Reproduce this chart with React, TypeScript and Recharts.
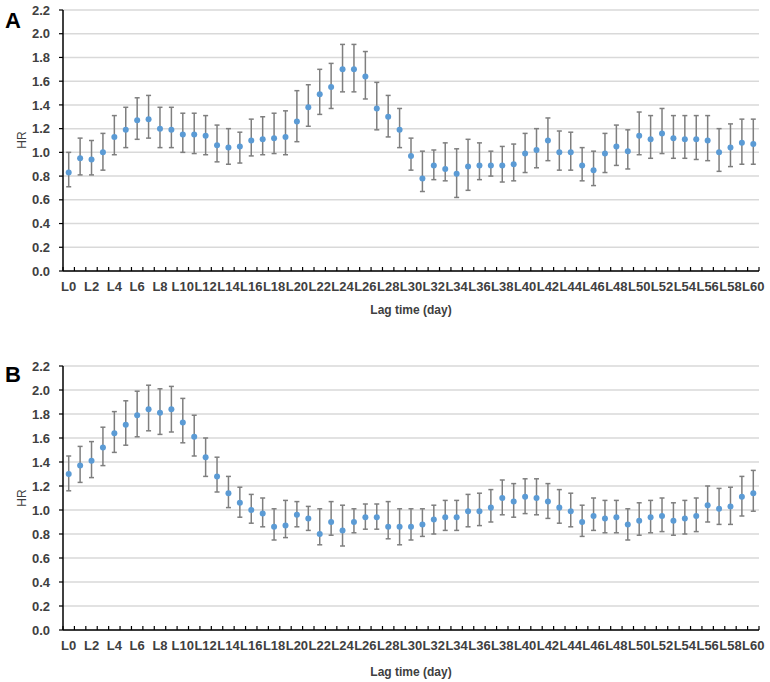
import React from 'react';
import { ComposedChart, Line, ErrorBar, XAxis, YAxis, CartesianGrid } from 'recharts';

const lags = [
  'L0','L1','L2','L3','L4','L5','L6','L7','L8','L9',
  'L10','L11','L12','L13','L14','L15','L16','L17','L18','L19',
  'L20','L21','L22','L23','L24','L25','L26','L27','L28','L29',
  'L30','L31','L32','L33','L34','L35','L36','L37','L38','L39',
  'L40','L41','L42','L43','L44','L45','L46','L47','L48','L49',
  'L50','L51','L52','L53','L54','L55','L56','L57','L58','L59','L60',
];

const hrA = [
  0.83,0.95,0.94,1.00,1.13,1.19,1.27,1.28,1.20,1.19,
  1.15,1.15,1.14,1.06,1.04,1.05,1.10,1.11,1.12,1.13,
  1.26,1.38,1.49,1.55,1.70,1.70,1.64,1.37,1.30,1.19,
  0.97,0.78,0.89,0.86,0.82,0.88,0.89,0.89,0.89,0.90,
  0.99,1.02,1.10,1.00,1.00,0.89,0.85,0.99,1.05,1.01,
  1.14,1.11,1.16,1.12,1.11,1.11,1.10,1.00,1.04,1.08,1.07,
];
const lowA = [
  0.71,0.81,0.81,0.85,0.98,1.04,1.11,1.12,1.04,1.04,
  1.00,0.99,0.98,0.92,0.90,0.91,0.97,0.98,0.99,0.98,
  1.09,1.22,1.32,1.37,1.51,1.51,1.45,1.19,1.13,1.04,
  0.85,0.67,0.77,0.76,0.62,0.68,0.77,0.80,0.75,0.76,
  0.83,0.87,0.93,0.85,0.85,0.76,0.72,0.83,0.89,0.86,
  0.98,0.95,0.99,0.95,0.95,0.94,0.93,0.84,0.88,0.90,0.90,
];
const highA = [
  1.00,1.12,1.10,1.16,1.31,1.38,1.46,1.48,1.38,1.38,
  1.33,1.33,1.31,1.23,1.20,1.17,1.28,1.30,1.33,1.35,
  1.52,1.57,1.70,1.75,1.91,1.91,1.85,1.59,1.48,1.37,
  1.12,1.01,1.02,1.08,1.03,1.11,1.08,1.01,1.05,1.07,
  1.16,1.20,1.29,1.18,1.17,1.04,1.01,1.16,1.23,1.19,
  1.34,1.31,1.37,1.31,1.31,1.31,1.31,1.20,1.24,1.28,1.28,
];

const hrB = [
  1.30,1.37,1.41,1.52,1.64,1.71,1.79,1.84,1.81,1.84,
  1.73,1.61,1.44,1.28,1.14,1.06,1.00,0.97,0.86,0.87,
  0.96,0.93,0.80,0.90,0.83,0.90,0.94,0.94,0.86,0.86,
  0.86,0.88,0.92,0.94,0.94,0.99,0.99,1.02,1.10,1.07,
  1.11,1.10,1.07,1.02,0.99,0.90,0.95,0.93,0.94,0.88,
  0.91,0.94,0.95,0.91,0.93,0.95,1.04,1.01,1.03,1.11,1.14,
];
const lowB = [
  1.16,1.23,1.27,1.37,1.48,1.54,1.61,1.66,1.63,1.65,
  1.56,1.45,1.28,1.15,1.02,0.94,0.89,0.86,0.75,0.77,
  0.86,0.83,0.71,0.79,0.70,0.81,0.84,0.84,0.76,0.71,
  0.75,0.78,0.80,0.83,0.83,0.86,0.87,0.90,0.96,0.94,
  0.97,0.96,0.93,0.89,0.86,0.78,0.83,0.81,0.81,0.75,
  0.79,0.81,0.82,0.79,0.80,0.82,0.90,0.88,0.88,0.95,0.99,
];
const highB = [
  1.45,1.53,1.57,1.69,1.82,1.91,1.99,2.04,2.01,2.03,
  1.93,1.79,1.60,1.44,1.28,1.19,1.13,1.10,1.01,1.08,
  1.07,1.03,1.01,1.07,1.04,1.01,1.05,1.05,1.07,1.01,
  1.01,1.01,1.04,1.08,1.08,1.13,1.14,1.17,1.25,1.22,
  1.26,1.26,1.22,1.17,1.14,1.04,1.10,1.08,1.08,1.01,
  1.06,1.08,1.10,1.06,1.08,1.10,1.20,1.18,1.19,1.28,1.33,
];

const yTicks = [0, 0.2, 0.4, 0.6, 0.8, 1.0, 1.2, 1.4, 1.6, 1.8, 2.0, 2.2];

const buildRows = (hr: number[], low: number[], high: number[]) =>
  lags.map((lag, i) => ({ lag, hr: hr[i], err: [hr[i] - low[i], high[i] - hr[i]] }));

const rowsA = buildRows(hrA, lowA, highA);
const rowsB = buildRows(hrB, lowB, highB);

const FONT = '"Liberation Sans", Arial, sans-serif';
const LABEL_COLOR = '#404040';
const CHART_W = 770;
const Y_AXIS_W = 63;
const RIGHT_M = 11;
const BAND = (CHART_W - Y_AXIS_W - RIGHT_M) / lags.length;

function LagTick(props: any) {
  const { x, y, payload } = props;
  const i = payload.index;
  return (
    <g>
      <line x1={x - BAND / 2} x2={x - BAND / 2} y1={y} y2={y - 4} stroke="#000" strokeWidth={1.2} />
      {i === lags.length - 1 && (
        <line x1={x + BAND / 2} x2={x + BAND / 2} y1={y} y2={y - 4} stroke="#000" strokeWidth={1.2} />
      )}
      {i % 2 === 0 && (
        <text x={x} y={y + 20} textAnchor="middle" fontFamily={FONT} fontWeight="bold" fontSize={13} fill={LABEL_COLOR}>
          {payload.value}
        </text>
      )}
    </g>
  );
}

function Panel({ rows, height, top }: { rows: any[]; height: number; top: number }) {
  return (
    <ComposedChart
      width={CHART_W}
      height={height}
      data={rows}
      margin={{ top, right: RIGHT_M, bottom: 0, left: 0 }}
    >
      <CartesianGrid vertical={false} stroke="#d9d9d9" strokeWidth={1.5} />
      <XAxis
        dataKey="lag"
        type="category"
        interval={0}
        height={50}
        padding={{ left: BAND / 2, right: BAND / 2 }}
        tickSize={0}
        tickMargin={0}
        tickLine={false}
        axisLine={{ stroke: '#000', strokeWidth: 1.5 }}
        tick={<LagTick />}
      />
      <YAxis
        width={Y_AXIS_W}
        domain={[0, 2.2]}
        ticks={yTicks}
        interval={0}
        tickFormatter={(v: number) => v.toFixed(1)}
        tickSize={4}
        tickMargin={9}
        axisLine={{ stroke: '#000', strokeWidth: 1.5 }}
        tickLine={{ stroke: '#000', strokeWidth: 1.2 }}
        tick={{ fontFamily: FONT, fontWeight: 'bold', fontSize: 13, fill: LABEL_COLOR }}
      />
      <Line
        dataKey="hr"
        stroke="none"
        isAnimationActive={false}
        dot={{ r: 3, fill: '#5B9BD5', stroke: 'none' }}
        activeDot={false}
      >
        <ErrorBar dataKey="err" direction="y" width={2.5} stroke="#7f7f7f" strokeWidth={1.5} isAnimationActive={false} />
      </Line>
    </ComposedChart>
  );
}

export default function App() {
  return (
    <div style={{ position: 'absolute', left: 0, top: 0, width: 770, height: 682, background: '#fff' }}>
      <div style={{ position: 'absolute', left: 0, top: 0 }}>
        <Panel rows={rowsA} height={321} top={10} />
      </div>
      <div style={{ position: 'absolute', left: 0, top: 340 }}>
        <Panel rows={rowsB} height={340} top={26} />
      </div>
      <svg width={770} height={682} style={{ position: 'absolute', left: 0, top: 0, pointerEvents: 'none' }}>
        <text x={5} y={28} fontFamily={FONT} fontWeight="bold" fontSize={22} fill="#000">A</text>
        <text x={5} y={382} fontFamily={FONT} fontWeight="bold" fontSize={22} fill="#000">B</text>
        <text x={25.5} y={140} transform="rotate(-90 25.5 140)" textAnchor="middle" fontFamily={FONT} fontSize={12} fill={LABEL_COLOR}>HR</text>
        <text x={25.5} y={498} transform="rotate(-90 25.5 498)" textAnchor="middle" fontFamily={FONT} fontSize={12} fill={LABEL_COLOR}>HR</text>
        <text x={411} y={313.5} textAnchor="middle" fontFamily={FONT} fontWeight="bold" fontSize={12} fill={LABEL_COLOR}>Lag time (day)</text>
        <text x={411} y={675.5} textAnchor="middle" fontFamily={FONT} fontWeight="bold" fontSize={12} fill={LABEL_COLOR}>Lag time (day)</text>
      </svg>
    </div>
  );
}
